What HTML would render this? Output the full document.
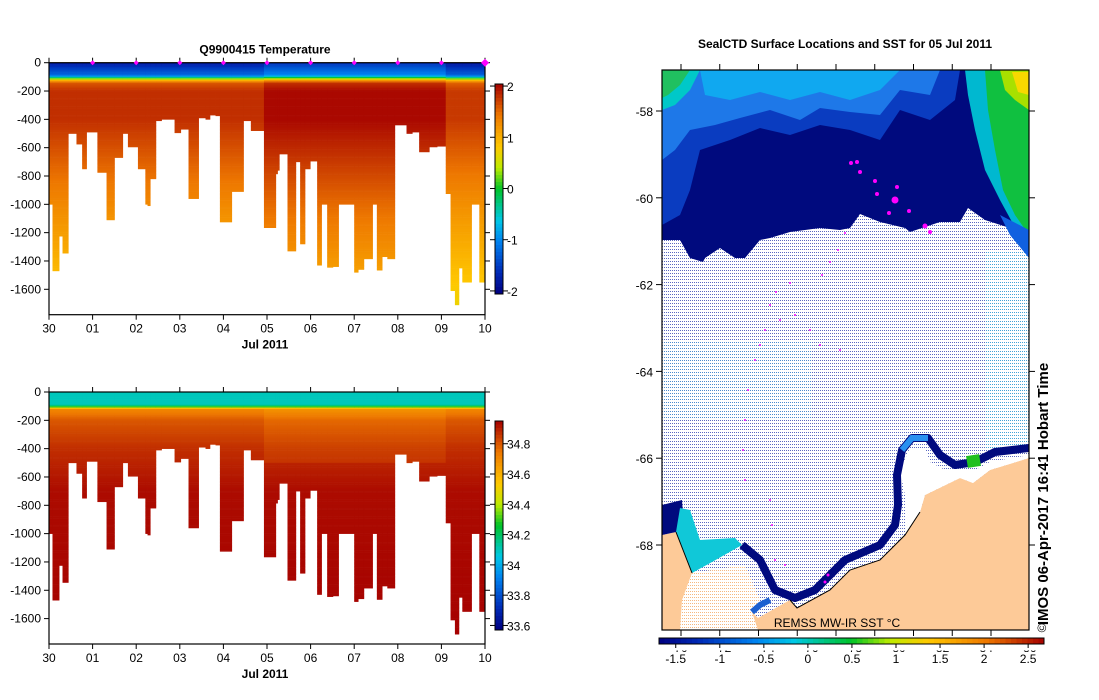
<!DOCTYPE html>
<html><head><meta charset="utf-8"><style>
html,body{margin:0;padding:0;background:#fff}
svg{display:block;font-family:"Liberation Sans",sans-serif}
</style></head><body>
<svg id="root" width="1099" height="700" viewBox="0 0 1099 700" xmlns="http://www.w3.org/2000/svg">
<defs>
<pattern id="icedots" width="2" height="3" patternUnits="userSpaceOnUse"><rect width="2" height="3" fill="#fff"/><rect x="0" y="0" width="1" height="1" fill="#5a68c0"/></pattern>
<pattern id="icedots2" width="2" height="3" patternUnits="userSpaceOnUse"><rect width="2" height="3" fill="#fff"/><rect x="0" y="0" width="1" height="1" fill="#33c8e8"/></pattern>
<pattern id="landdots" width="2" height="3" patternUnits="userSpaceOnUse"><rect width="2" height="3" fill="#fff"/><rect x="0" y="0" width="1" height="1" fill="#f5b880"/></pattern>
<clipPath id="mapclip"><rect x="662" y="70" width="367" height="560"/></clipPath>
</defs>
<g id="tchart"></g>
<g id="schart"></g>

<g>
<text x="845" y="48" text-anchor="middle" font-size="12" font-weight="bold">SealCTD Surface Locations and SST for 05 Jul 2011</text>
<g clip-path="url(#mapclip)">
<rect x="662" y="70" width="367" height="560" fill="url(#icedots)"/>
<rect x="985" y="250" width="44" height="200" fill="url(#icedots2)" opacity="0.6"/>
<rect x="662" y="340" width="150" height="80" fill="url(#icedots2)" opacity="0.35"/>
<polygon fill="#000a7e" points="662,70 1029,70 1029,258 1010,228 985,220 968,208 960,222 940,222 910,232 905,228 880,222 860,214 850,228 840,230 820,228 790,232 770,238 760,240 745,258 735,258 720,248 705,258 703,262 690,258 680,240 662,240"/>
<polygon fill="#0a3cc0" points="662,70 960,70 955,100 930,120 900,110 880,140 850,130 820,125 790,135 760,128 730,140 700,150 690,190 680,215 662,225"/>
<polygon fill="#1e78e8" points="662,70 940,70 930,95 900,90 880,115 850,112 820,108 800,120 770,110 740,118 715,125 690,130 675,150 662,160"/>
<polygon fill="#10a8f0" points="700,70 900,70 880,90 850,100 820,92 790,100 760,92 730,100 705,95"/>
<polygon fill="#00c8c8" points="662,70 700,70 690,90 675,105 662,110"/>
<polygon fill="#20c060" points="662,70 690,70 680,85 668,95 662,98"/>
<polygon fill="#00b8d0" points="965,70 1029,70 1029,250 1012,222 1000,200 985,170 975,130 968,95"/>
<polygon fill="#10c040" points="985,70 1029,70 1029,235 1015,215 1003,190 995,150 988,110"/>
<polygon fill="#a8e000" points="1000,70 1029,70 1029,110 1015,100 1005,90"/>
<polygon fill="#f8d800" points="1012,72 1029,72 1029,95 1018,92"/>
<polygon fill="#1060e0" points="1000,215 1029,230 1029,258 1010,235"/>
<polygon fill="#fdca98" points="662,535 676,532 692,573 700,580 752,612 758,618 790,600 797,608 830,590 850,570 880,560 905,535 920,512 925,495 960,478 973,483 990,470 1029,458 1029,630 662,630"/>
<polygon fill="url(#landdots)" points="692,573 745,565 760,600 752,612 758,630 680,630 682,600"/>
<polygon fill="#000a7e" points="662,505 682,500 683,515 676,532 662,535"/>
<polygon fill="#10c8d8" points="680,508 690,510 700,540 735,538 742,545 712,562 692,573 676,532"/>
<polygon fill="#fff" points="905,535 905,495 900,470 910,448 925,448 930,462 945,470 975,470 990,462 1029,455 1029,458 990,470 973,483 960,478 925,495 920,512"/>
<path d="M742,545 L760,560 L775,590 L795,598 L815,590 L830,575 L845,560 L880,545 L895,525 L898,505 L897,475 L902,450 L912,438 L928,438 L940,455 L955,465 L975,462 L995,452 L1029,448" fill="none" stroke="#000a7e" stroke-width="8" stroke-linejoin="round"/>
<path d="M902,450 L912,438 L928,438" fill="none" stroke="#2a90f0" stroke-width="6"/>
<path d="M967,462 L980,460" fill="none" stroke="#20c020" stroke-width="12"/>
<path d="M752,612 L760,605 L770,600" fill="none" stroke="#1c60d0" stroke-width="6"/>
<polyline fill="none" stroke="#000" stroke-width="1" points="676,532 692,573"/>
<polyline fill="none" stroke="#000" stroke-width="1" points="790,600 797,608 830,590 850,570 880,560 905,535 920,512"/>
<g fill="#ff00ff">
<circle cx="851" cy="163" r="2"/><circle cx="857" cy="162" r="2"/><circle cx="860" cy="172" r="2"/><circle cx="875" cy="181" r="2"/><circle cx="877" cy="194" r="2"/><circle cx="897" cy="187" r="2"/><circle cx="895" cy="200" r="3.5"/><circle cx="909" cy="211" r="2"/><circle cx="889" cy="213" r="2"/><circle cx="925" cy="226" r="2.5"/><circle cx="930" cy="232" r="2"/>
<circle cx="845" cy="233" r="1"/><circle cx="838" cy="250" r="1"/><circle cx="830" cy="262" r="1"/><circle cx="822" cy="275" r="1"/><circle cx="790" cy="283" r="1"/><circle cx="776" cy="292" r="1"/><circle cx="770" cy="305" r="1"/><circle cx="780" cy="320" r="1"/><circle cx="795" cy="315" r="1"/><circle cx="810" cy="330" r="1"/><circle cx="820" cy="345" r="1"/><circle cx="840" cy="350" r="1"/><circle cx="765" cy="330" r="1"/><circle cx="760" cy="345" r="1"/><circle cx="755" cy="360" r="1"/><circle cx="748" cy="390" r="1"/><circle cx="745" cy="420" r="1"/><circle cx="743" cy="450" r="1"/><circle cx="745" cy="480" r="1"/><circle cx="770" cy="500" r="1"/><circle cx="772" cy="525" r="1"/><circle cx="775" cy="560" r="1"/><circle cx="785" cy="565" r="1"/><circle cx="828" cy="575" r="1.5"/><circle cx="825" cy="582" r="1.5"/>
</g>
</g>
<rect x="662" y="70" width="367" height="560" fill="none" stroke="#000" stroke-width="1.2"/>
<g id="mapaxes"></g>
<text x="837" y="627" text-anchor="middle" font-size="12">REMSS MW-IR SST °C</text>
<text transform="translate(1048,494) rotate(-90)" text-anchor="middle" font-size="15" font-weight="bold">IMOS 06-Apr-2017 16:41 Hobart Time</text>
<text transform="translate(1046,628) rotate(-90)" text-anchor="middle" font-size="12">©</text>
<g id="sstbar"></g>
</g>
</svg>
<script>
// ---- profile data (shared by both sections) ----
const profileDays=[0,.08,.23,.31,.44,.63,.76,.86,1.11,1.32,1.50,1.69,1.81,2.04,2.21,2.26,2.32,2.45,2.58,2.88,3.02,3.20,3.43,3.59,3.69,3.82,3.92,4.19,4.46,4.63,4.93,5.20,5.24,5.28,5.47,5.66,5.76,5.87,5.99,6.15,6.25,6.38,6.51,6.64,7.00,7.09,7.22,7.42,7.52,7.64,7.76,7.93,8.20,8.33,8.49,8.72,8.90,9.10,9.21,9.31,9.40,9.48,9.69,9.87,10.0];
const maxDepths=[1000,1470,1225,1345,500,575,750,490,775,1110,670,500,595,750,1000,1010,820,410,400,495,470,960,390,400,370,375,1125,910,410,480,1165,785,760,645,1330,700,1280,750,695,1430,1000,1445,1440,1000,1480,1460,1385,1000,1465,1370,1385,440,500,490,630,595,590,925,1610,1710,1450,1550,1000,1550];
const coreTemp=[1.8,1.8,1.8,1.8,1.8,1.8,1.8,1.8,1.8,1.8,1.8,1.8,1.8,1.8,1.8,1.8,1.8,1.8,1.8,1.8,1.8,1.8,1.8,1.8,1.8,1.8,1.8,1.8,1.8,1.8,2.0,2.0,2.0,2.0,2.0,2.0,2.0,2.0,2.0,2.0,2.0,2.0,2.0,2.0,2.0,2.0,2.0,2.0,2.0,2.0,2.0,2.0,2.0,2.0,2.0,2.0,2.0,1.75,1.75,1.75,1.75,1.75,1.75,1.75];
const tempLevelDepth=[0,40,90,110,125,145,200,400,1000,1700];
const tempLevelOffset=[-3.6,-3.3,-3.0,-1.8,-0.8,-0.2,0,0,-0.5,-1.05];
const salLevelDepth=[0,90,105,120,200,400,700,1800];
const salLevelValue=[34.1,34.1,34.3,34.7,34.8,34.87,34.93,34.95];
const dayTickLabels=["30","01","02","03","04","05","06","07","08","09","10"];
const depthTicks=[0,-200,-400,-600,-800,-1000,-1200,-1400,-1600];
const tempBarTicks=[2,1,0,-1,-2];
const salBarTicks=[34.8,34.6,34.4,34.2,34,33.8,33.6];
const latTicks=[-58,-60,-62,-64,-66,-68];
const sstBarTicks=[-1.5,-1,-0.5,0,0.5,1,1.5,2,2.5];
const sstTopTicks=["70","72","74","76","78","80","82","84","86"];

const NS="http://www.w3.org/2000/svg";
function mk(tag,attrs,parent){const e=document.createElementNS(NS,tag);for(const k in attrs)e.setAttribute(k,attrs[k]);parent.appendChild(e);return e;}
const stops=[[0,0,0,128],[0.1,0,40,180],[0.25,0,130,240],[0.35,0,200,230],[0.5,0,195,40],[0.6,190,235,0],[0.7,255,200,0],[0.85,238,120,0],[1,165,0,0]];
function cmap(f){f=Math.max(0,Math.min(1,f));for(let i=1;i<stops.length;i++){if(f<=stops[i][0]){const a=stops[i-1],b=stops[i],t=(f-a[0])/(b[0]-a[0]);return`rgb(${Math.round(a[1]+t*(b[1]-a[1]))},${Math.round(a[2]+t*(b[2]-a[2]))},${Math.round(a[3]+t*(b[3]-a[3]))})`;}}return"rgb(165,0,0)";}
function interp(xs,ys,x){if(x<=xs[0])return ys[0];for(let i=1;i<xs.length;i++){if(x<=xs[i]){const t=(x-xs[i-1])/(xs[i]-xs[i-1]);return ys[i-1]+t*(ys[i]-ys[i-1]);}}return ys[ys.length-1];}

function drawSection(g,y0,valueAt,vmin,vmax,barTicks,barTop,barBot,title){
  const xL=49,xR=485,yZero=y0,pxPerM=226.6/1600,yB=y0+252;
  const xs=d=>xL+d*(xR-xL)/10, ys=m=>yZero+m*pxPerM;
  if(title){const t=mk('text',{x:265,y:yZero-9,'text-anchor':'middle','font-size':12,'font-weight':'bold'},g);t.textContent=title;
    
    }
  const cells=mk('g',{},g);
  
  
  for(let i=0;i<maxDepths.length;i++){
    const x1=xs(profileDays[i]),x2=xs(profileDays[i+1]);
    for(let d=0;d<maxDepths[i];d+=10){
      const h=Math.min(10,maxDepths[i]-d);
      const v=valueAt(i,d+5);
      mk('rect',{x:x1.toFixed(2),y:ys(d).toFixed(2),width:(x2-x1+0.4).toFixed(2),height:(h*pxPerM+0.3).toFixed(2),fill:cmap((v-vmin)/(vmax-vmin))},cells);
    }
  }
  const fr=mk('rect',{x:xL,y:yZero,width:xR-xL,height:yB-yZero,fill:'none',stroke:'#000','stroke-width':1.2},g);
  
  
  depthTicks.forEach(t=>{const y=ys(-t);
    mk('line',{x1:xL-5,x2:xL,y1:y,y2:y,stroke:'#000'},g);mk('line',{x1:xR,x2:xR+5,y1:y,y2:y,stroke:'#000'},g);
    const tx=mk('text',{x:xL-8,y:y+4,'text-anchor':'end','font-size':12},g);tx.textContent=t;
    
    });
  dayTickLabels.forEach((lab,i)=>{const x=xs(i);
    mk('line',{x1:x,x2:x,y1:yB,y2:yB+5,stroke:'#000'},g);mk('line',{x1:x,x2:x,y1:yZero-5,y2:yZero,stroke:'#000'},g);
    const tx=mk('text',{x:x,y:yB+18,'text-anchor':'middle','font-size':12},g);tx.textContent=lab;
    
    });
  const xl=mk('text',{x:265,y:yB+34,'text-anchor':'middle','font-size':12,'font-weight':'bold'},g);xl.textContent='Jul 2011';
  
  
  const cb=mk('g',{},g);
  
  
  const n=60;for(let k=0;k<n;k++){const yy=barTop+(barBot-barTop)*k/n;mk('rect',{x:495,y:yy.toFixed(2),width:8,height:((barBot-barTop)/n+0.5).toFixed(2),fill:cmap(1-(k+0.5)/n)},cb);}
  mk('rect',{x:495,y:barTop,width:8,height:barBot-barTop,fill:'none',stroke:'#000'},cb);
  barTicks.forEach(t=>{const y=barBot-(t-vmin)/(vmax-vmin)*(barBot-barTop);
    mk('line',{x1:490,x2:495,y1:y,y2:y,stroke:'#000'},cb);mk('line',{x1:503,x2:508,y1:y,y2:y,stroke:'#000'},cb);
    const tx=mk('text',{x:507,y:y+5,'font-size':12},cb);tx.textContent=t;
    
    });
  return {xs,yZero};
}
const tg=document.getElementById('tchart');
const ta=drawSection(tg,62.7,(i,d)=>coreTemp[i]+interp(tempLevelDepth,tempLevelOffset,d),-2.06,2.04,tempBarTicks,84,294,'Q9900415  Temperature');
for(let k=1;k<=10;k++){const s=(k==10?4:2.5);const x=ta.xs(k);const p=mk('polygon',{points:`${x},${ta.yZero-s} ${x+s},${ta.yZero} ${x},${ta.yZero+s} ${x-s},${ta.yZero}`,fill:'#ff00ff'},tg);
  
  }
const sg=document.getElementById('schart');
drawSection(sg,392,(i,d)=>interp(salLevelDepth,salLevelValue,d)+(coreTemp[i]>1.9&&d>120&&d<500?-0.03:0),33.57,34.95,salBarTicks,421,630,null);

const ma=document.getElementById('mapaxes');
const latY=l=>111+(-58-l)*43.4;
latTicks.forEach(l=>{const y=latY(l);
  mk('line',{x1:656,x2:662,y1:y,y2:y,stroke:'#000'},ma);mk('line',{x1:1029,x2:1035,y1:y,y2:y,stroke:'#000'},ma);
  const tx=mk('text',{x:653,y:y+5,'text-anchor':'end','font-size':12},ma);tx.textContent=l;
  
  });
for(let k=0;k<9;k++){const x=681+k*38.75;mk('line',{x1:x,x2:x,y1:64,y2:70,stroke:'#000'},ma);mk('line',{x1:x,x2:x,y1:630,y2:636,stroke:'#000'},ma);}
const sb=document.getElementById('sstbar');
const sMin=-1.69,sMax=2.68,bx0=659,bx1=1044;
const n=70;for(let k=0;k<n;k++){mk('rect',{x:(bx0+(bx1-bx0)*k/n).toFixed(2),y:638,width:((bx1-bx0)/n+0.5).toFixed(2),height:6,fill:cmap((k+0.5)/n)},sb);}
mk('rect',{x:bx0,y:638,width:bx1-bx0,height:6,fill:'none',stroke:'#000'},sb);
sstTopTicks.forEach((lab,k)=>{const tx=mk('text',{x:681+k*43.6,y:652,'text-anchor':'middle','font-size':12,fill:'#000'},sb);tx.textContent=lab;
  
  });
mk('rect',{x:bx0-2,y:644.5,width:bx1-bx0+4,height:6,fill:'#fff'},sb);
sstBarTicks.forEach(t=>{const x=bx0+(t-sMin)/(sMax-sMin)*(bx1-bx0);
  mk('line',{x1:x,x2:x,y1:644,y2:648,stroke:'#000'},sb);
  const tx=mk('text',{x:x,y:663,'text-anchor':'middle','font-size':12},sb);tx.textContent=t;
  
  });
</script>
</body></html>
